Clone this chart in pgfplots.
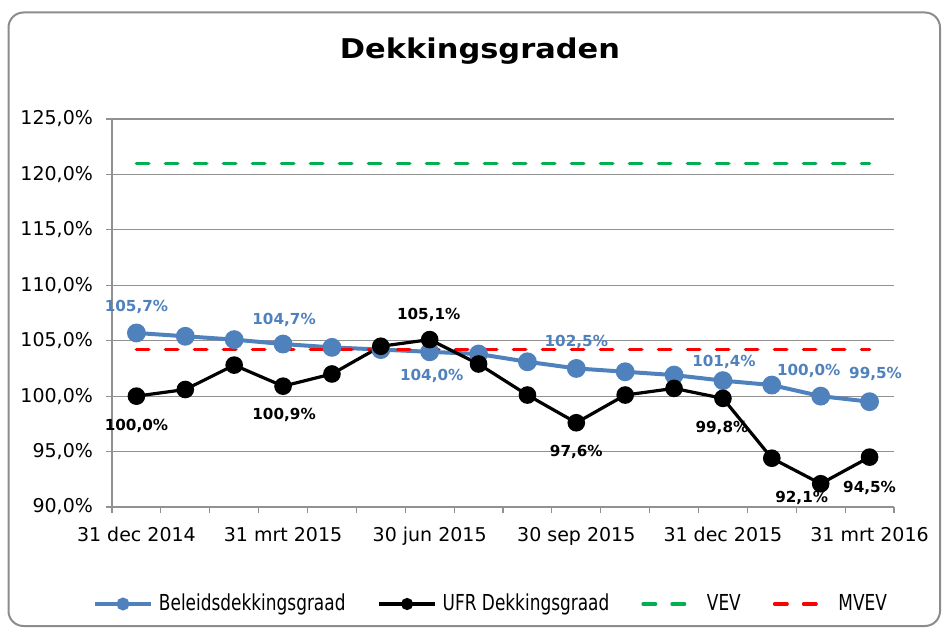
\documentclass[border=0pt]{standalone}
\usepackage{pgfplots}
\pgfplotsset{compat=1.18}
\usepackage{fontspec}
\setmainfont{DejaVu Sans}
\newfontfamily\titlefont{DejaVu Sans}[FakeStretch=1.12]
\newfontfamily\legfont{DejaVu Sans}[FakeStretch=0.77]
\definecolor{bl}{RGB}{79,129,189}
\definecolor{gr}{RGB}{0,176,80}
\definecolor{rd}{RGB}{255,0,0}
\definecolor{gridc}{RGB}{145,145,145}
\pgfplotstableread{
x y
0 105.7
1 105.4
2 105.1
3 104.7
4 104.4
5 104.2
6 104.0
7 103.8
8 103.1
9 102.5
10 102.2
11 101.9
12 101.4
13 101.0
14 100.0
15 99.5
}\beleids
\pgfplotstableread{
x y
0 100.0
1 100.6
2 102.8
3 100.9
4 102.0
5 104.5
6 105.1
7 102.9
8 100.1
9 97.6
10 100.1
11 100.7
12 99.8
13 94.4
14 92.1
15 94.5
}\ufr
\tikzset{
 lblB/.style={text=bl, font=\fontsize{7.6}{9}\selectfont\bfseries, anchor=base, inner sep=0pt},
 lblK/.style={text=black, font=\fontsize{7.6}{9}\selectfont\bfseries, anchor=base, inner sep=0pt},
}
\begin{document}
\begin{tikzpicture}
\useasboundingbox (0,0) rectangle (471.5pt,314pt);
\draw[black!45, line width=1pt, rounded corners=7.5pt] (4.25pt,1pt) rectangle (470pt,307.75pt);
\node[anchor=base, inner sep=0pt, font={\titlefont\fontsize{13.6}{16}\selectfont\bfseries}] at (240pt,284.5pt) {Dekkingsgraden};
\begin{axis}[
 at={(56pt,60.5pt)}, anchor=south west, scale only axis,
 width=391pt, height=194pt,
 xmin=-0.5, xmax=15.5, ymin=90, ymax=125,
 axis lines*=left,
 axis line style={gridc, line width=0.6pt},
 clip=false,
 xtick={0,3,6,9,12,15},
 xticklabels={31 dec 2014, 31 mrt 2015, 30 jun 2015, 30 sep 2015, 31 dec 2015, 31 mrt 2016},
 major x tick style={draw=none},
 minor xtick={-0.5,0.5,...,15.5},
 minor tick length=3pt,
 ytick={90,95,100,105,110,115,120,125},
 yticklabels={{90,0\%},{95,0\%},{100,0\%},{105,0\%},{110,0\%},{115,0\%},{120,0\%},{125,0\%}},
 ymajorgrids,
 grid style={gridc, line width=0.6pt},
 tick align=outside, major tick length=3pt,
 tick style={gridc, line width=0.6pt},
 ticklabel style={font=\fontsize{9.5}{11}\selectfont},
 xticklabel style={yshift=-3.5pt},
 yticklabel style={xshift=-3pt},
 legend columns=4,
 legend style={draw=none, fill=none, at={(axis description cs:-0.0243,-0.25)}, anchor=west,
   inner sep=0pt, outer sep=0pt, font={\legfont\fontsize{11}{13}\selectfont},
   /tikz/every even column/.append style={column sep=13pt},
   nodes={inner xsep=3pt, inner ysep=0pt}},
 legend image code/.code={\draw[mark repeat=2,mark phase=2,#1] plot coordinates {(0pt,0pt) (14pt,0pt) (28pt,0pt)};},
]
\addplot[bl, line width=2pt, mark=*, mark size=3.7pt, forget plot] table[x=x,y=y] {\beleids};
\addplot[gr, line width=1.8pt, dash pattern=on 6.2pt off 8.3pt, line cap=round, forget plot] coordinates {(0,121.0) (15,121.0)};
\addplot[rd, line width=1.8pt, dash pattern=on 6.2pt off 8.3pt, line cap=round, forget plot] coordinates {(0,104.2) (15,104.2)};
\addplot[black, line width=1.6pt, mark=*, mark size=3.6pt, forget plot] table[x=x,y=y] {\ufr};
\addlegendimage{bl, line width=2pt, mark=*, mark size=2.2pt}
\addlegendentry{Beleidsdekkingsgraad}
\addlegendimage{black, line width=1.6pt, mark=*, mark size=2.2pt}
\addlegendentry{UFR Dekkingsgraad}
\addlegendimage{gr, line width=1.8pt, dash pattern=on 6.2pt off 8.3pt, line cap=round}
\addlegendentry{VEV}
\addlegendimage{rd, line width=1.8pt, dash pattern=on 6.2pt off 8.3pt, line cap=round}
\addlegendentry{MVEV}
% data labels
\node[lblB, xshift=0pt, yshift=10.5pt] at (axis cs:0,105.7) {105,7\%};
\node[lblB, xshift=0.5pt, yshift=10pt] at (axis cs:3,104.7) {104,7\%};
\node[lblB, xshift=1pt, yshift=-14.5pt] at (axis cs:6,104.0) {104,0\%};
\node[lblB, xshift=0pt, yshift=11pt] at (axis cs:9,102.5) {102,5\%};
\node[lblB, xshift=0.5pt, yshift=7pt] at (axis cs:12,101.4) {101,4\%};
\node[lblB, xshift=-6pt, yshift=10.5pt] at (axis cs:14,100.0) {100,0\%};
\node[lblB, xshift=3pt, yshift=11.5pt] at (axis cs:15,99.5) {99,5\%};
\node[lblK, xshift=0pt, yshift=-17pt] at (axis cs:0,100.0) {100,0\%};
\node[lblK, xshift=0.5pt, yshift=-16.5pt] at (axis cs:3,100.9) {100,9\%};
\node[lblK, xshift=-0.5pt, yshift=10pt] at (axis cs:6,105.1) {105,1\%};
\node[lblK, xshift=0pt, yshift=-17pt] at (axis cs:9,97.6) {97,6\%};
\node[lblK, xshift=-0.5pt, yshift=-17pt] at (axis cs:12,99.8) {99,8\%};
\node[lblK, xshift=-9.5pt, yshift=-9.5pt] at (axis cs:14,92.1) {92,1\%};
\node[lblK, xshift=0pt, yshift=-17.5pt] at (axis cs:15,94.5) {94,5\%};
\end{axis}
\end{tikzpicture}
\end{document}
